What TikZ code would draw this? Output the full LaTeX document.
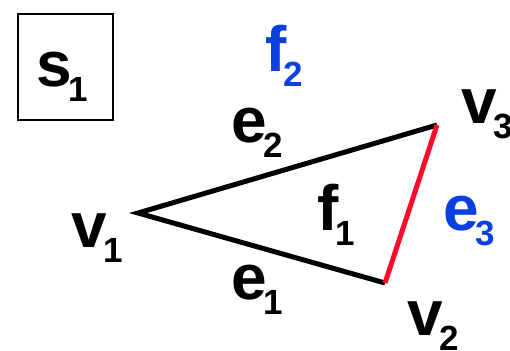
\documentclass[tikz,border=0pt]{standalone}
\usepackage{fontspec}
\setmainfont{Liberation Sans}
\definecolor{lblblue}{HTML}{0A3FE0}
\definecolor{edgered}{HTML}{FF0A2A}
\newcommand\mylbl[2]{\fontsize{64}{64}\selectfont\bfseries #1\hspace{-3pt}\raisebox{-15pt}{\fontsize{35}{35}\selectfont #2}}
\begin{document}
\begin{tikzpicture}[x=1pt,y=-1pt,
  lab/.style={inner sep=0pt,outer sep=0pt,anchor=base west},
  edge/.style={line width=5pt,line join=miter}]
\useasboundingbox (0,0) rectangle (510,350);
\node[draw,line width=2pt,minimum width=95pt,minimum height=106pt,inner sep=0pt,anchor=north west] (box) at (17,13) {};
\node[lab] (s1) at (36,86) {\mylbl{s}{1}};
\coordinate (v1) at (138,213);
\coordinate (v2) at (385,283);
\coordinate (v3) at (437,125);
\draw[edge] (v2) -- (v1) -- (v3);
\draw[edge,edgered] (v2) -- (v3);
\node[lab] (lv1) at (71,247) {\mylbl{v}{1}};
\node[lab] (lv2) at (407,335) {\mylbl{v}{2}};
\node[lab] (lv3) at (461,123) {\mylbl{v}{3}};
\node[lab] (le1) at (231,299) {\mylbl{e}{1}};
\node[lab] (le2) at (231,142) {\mylbl{e}{2}};
\node[lab,text=lblblue] (le3) at (443,230) {\mylbl{e}{3}};
\node[lab] (lf1) at (317,230) {\mylbl{f}{1}};
\node[lab,text=lblblue] (lf2) at (265,72) {\mylbl{f}{2}};
\end{tikzpicture}
\end{document}
